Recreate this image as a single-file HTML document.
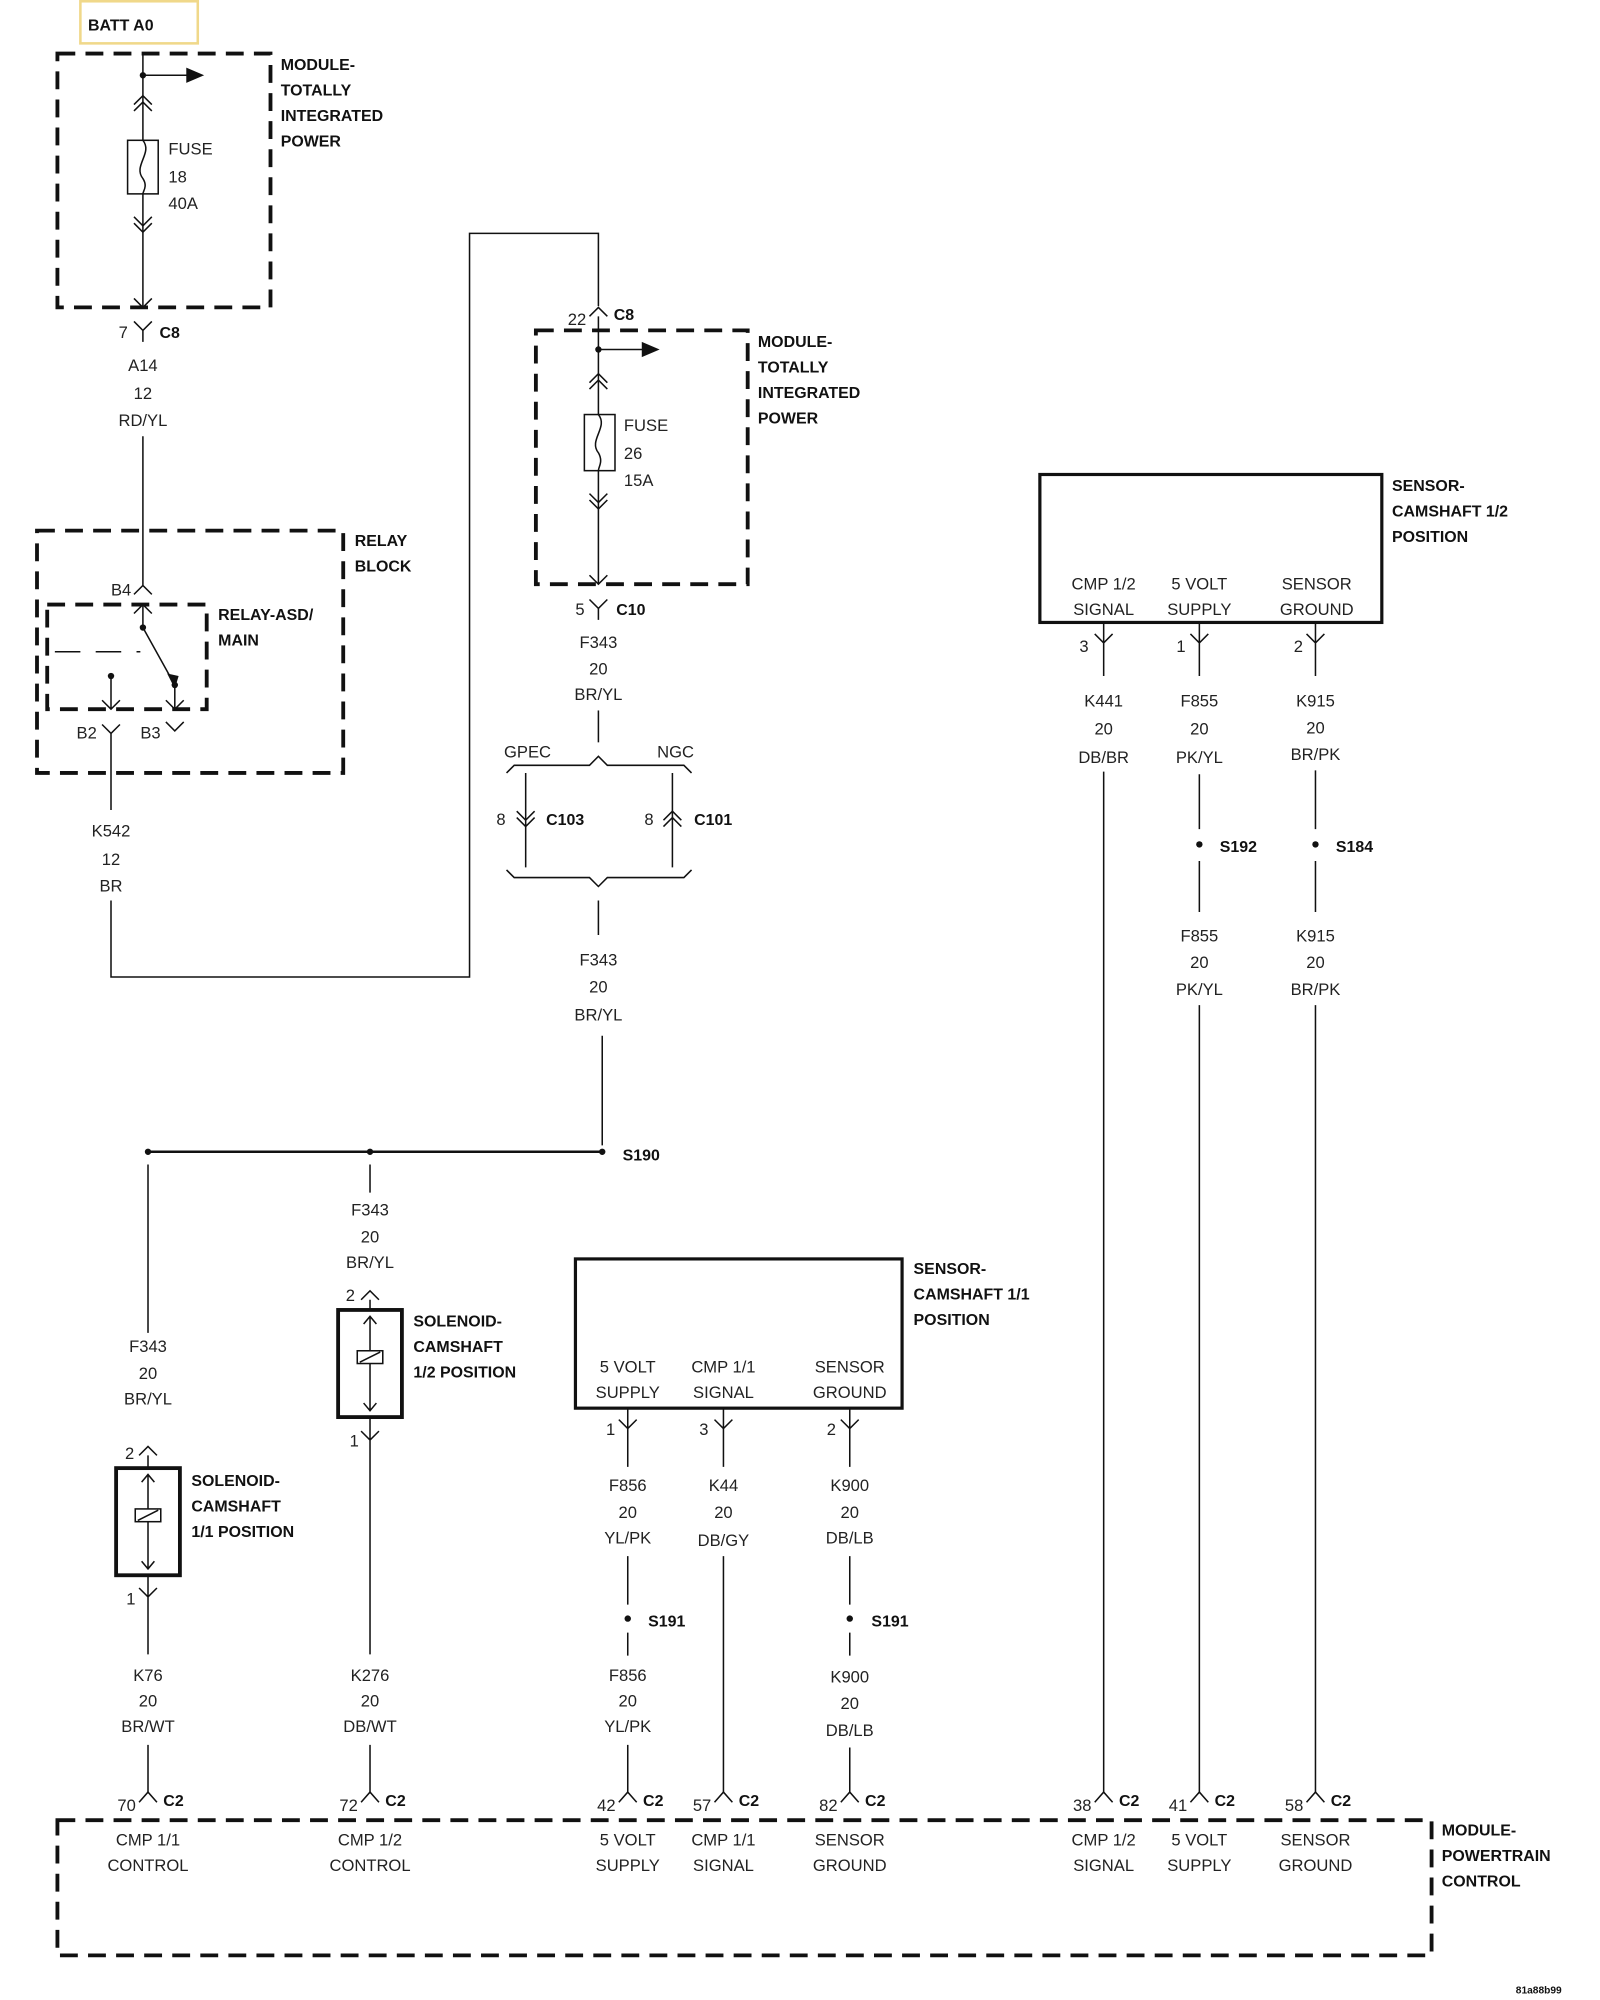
<!DOCTYPE html>
<html><head><meta charset="utf-8"><style>
html,body{margin:0;padding:0;background:#fff;width:1600px;height:2000px;overflow:hidden}
svg{display:block}
text{font-family:"Liberation Sans",sans-serif;font-size:13px;fill:#222}
.b{font-weight:bold;font-size:12.5px;fill:#111}
.c{text-anchor:middle}
</style></head><body>
<svg width="1600" height="2000" viewBox="0 0 1254 1568" preserveAspectRatio="none" xmlns="http://www.w3.org/2000/svg">
<g stroke="#111" fill="none" stroke-width="1.2">
<rect x="63" y="1" width="92" height="33" stroke="#f0d88a" stroke-width="2"/>
<g stroke-width="3" stroke-dasharray="14,8">
<rect x="45" y="42" width="167" height="199"/>
<rect x="29" y="416" width="240" height="190"/>
<rect x="37" y="474" width="125" height="82"/>
<rect x="420" y="259" width="166" height="199"/>
<rect x="45" y="1427" width="1077" height="106"/>
</g>
<path d="M112 42V241"/>
<path d="M112 59H150"/>
<path d="M105 82L112 75L119 82M105 87L112 80L119 87"/>
<rect x="100" y="110" width="24" height="42" fill="#fff"/>
<path d="M112 110C120 120 104 130 112 140C116 146 112 150 112 152"/>
<path d="M105 170L112 177L119 170M105 175L112 182L119 175M105 234L112 241L119 234"/>
<path d="M105 252L112 259L119 252M112 259V268"/>
<path d="M112 342V459M105 466L112 459L119 466"/>
<path d="M112 474V492L137 537M137 537V556M87 530V556M130 549L137 556L144 549M80 549L87 556L94 549M105 481L112 474L119 481"/>
<path d="M43 511H110" stroke-dasharray="20,12"/>
<path d="M80 568L87 575L94 568M87 575V635M87 706V766H368V183H469V240M130 566L137 573L144 566"/>
<path d="M462 248L469 241L476 248M469 248V458"/>
<path d="M469 274H507"/>
<path d="M462 300L469 293L476 300M462 305L469 298L476 305"/>
<rect x="458" y="325" width="24" height="44" fill="#fff"/>
<path d="M469 325C477 335 461 345 469 355C473 362 469 366 469 369"/>
<path d="M462 387L469 394L476 387M462 392L469 399L476 392M462 451L469 458L476 451"/>
<path d="M462 470L469 477L476 470M469 477V486"/>
<path d="M469 557V582"/>
<path d="M397 606L403 600H462L469 593L476 600H536L542 606"/>
<path d="M412 606V680M527 606V680"/>
<path d="M405 636L412 643L419 636M405 641L412 648L419 641"/>
<path d="M520 643L527 636L534 643M520 648L527 641L534 648"/>
<path d="M397 682L403 688H462L469 695L476 688H536L542 682"/>
<path d="M469 706V733M472 812V898"/>
<path d="M116 903H472" stroke-width="2"/>
<path d="M116 913V1045M290 913V935"/>
<path d="M109 1141L116 1134L123 1141M116 1141V1151"/>
<rect x="91" y="1151" width="50" height="84" stroke-width="3"/>
<path d="M116 1156V1230M111 1162L116 1156L121 1162M111 1224L116 1230L121 1224"/>
<rect x="106" y="1183" width="20" height="10" fill="#fff"/>
<path d="M108 1192L124 1184"/>
<path d="M109 1245L116 1252L123 1245M116 1235V1297M116 1368V1405"/>
<path d="M283 1019L290 1012L297 1019M290 1019V1027"/>
<rect x="265" y="1027" width="50" height="84" stroke-width="3"/>
<path d="M290 1032V1106M285 1038L290 1032L295 1038M285 1100L290 1106L295 1100"/>
<rect x="280" y="1059" width="20" height="10" fill="#fff"/>
<path d="M282 1068L298 1060"/>
<path d="M283 1122L290 1129L297 1122M290 1111V1297M290 1368V1405"/>
<rect x="451" y="987" width="256" height="117" stroke-width="2.5"/>
<path d="M485 1113L492 1120L499 1113M492 1104V1150M492 1220V1258M492 1280V1298M492 1368V1405"/>
<path d="M560 1113L567 1120L574 1113M567 1104V1150M567 1220V1405"/>
<path d="M659 1113L666 1120L673 1113M666 1104V1150M666 1220V1258M666 1280V1298M666 1370V1405"/>
<rect x="815" y="372" width="268" height="116" stroke-width="2.5"/>
<path d="M858 497L865 504L872 497M865 488V530M865 605V1405"/>
<path d="M933 497L940 504L947 497M940 488V530M940 607V650M940 675V715M940 788V1405"/>
<path d="M1024 497L1031 504L1038 497M1031 488V530M1031 604V650M1031 675V715M1031 788V1405"/>
<path d="M109 1413L116 1405L123 1413M283 1413L290 1405L297 1413M485 1413L492 1405L499 1413M560 1413L567 1405L574 1413M659 1413L666 1405L673 1413M858 1413L865 1405L872 1413M933 1413L940 1405L947 1413M1024 1413L1031 1405L1038 1413"/>
</g>
<g fill="#111">
<polygon points="146,53 160,59 146,65"/>
<polygon points="503,268 517,274 503,280"/>
<polygon points="131,528 137,540 140,530"/>
<circle cx="112" cy="59" r="2.5"/><circle cx="469" cy="274" r="2.5"/>
<circle cx="112" cy="492" r="2.5"/><circle cx="137" cy="537" r="2.5"/><circle cx="87" cy="530" r="2.5"/>
<circle cx="472" cy="903" r="2.5"/><circle cx="116" cy="903" r="2.5"/><circle cx="290" cy="903" r="2.5"/>
<circle cx="492" cy="1269" r="2.5"/><circle cx="666" cy="1269" r="2.5"/>
<circle cx="940" cy="662" r="2.5"/><circle cx="1031" cy="662" r="2.5"/>
</g>
<text class="b" x="69" y="24">BATT A0</text>
<text class="b" x="220" y="55">MODULE-</text><text class="b" x="220" y="75">TOTALLY</text><text class="b" x="220" y="95">INTEGRATED</text><text class="b" x="220" y="115">POWER</text>
<text x="132" y="121">FUSE</text><text x="132" y="143">18</text><text x="132" y="164">40A</text>
<text x="93" y="265">7</text><text class="b" x="125" y="265">C8</text>
<text class="c" x="112" y="291">A14</text><text class="c" x="112" y="313">12</text><text class="c" x="112" y="334">RD/YL</text>
<text class="b" x="278" y="428">RELAY</text><text class="b" x="278" y="448">BLOCK</text>
<text x="87" y="467">B4</text>
<text class="b" x="171" y="486">RELAY-ASD/</text><text class="b" x="171" y="506">MAIN</text>
<text x="60" y="579">B2</text><text x="110" y="579">B3</text>
<text class="c" x="87" y="656">K542</text><text class="c" x="87" y="678">12</text><text class="c" x="87" y="699">BR</text>
<text x="445" y="255">22</text><text class="b" x="481" y="251">C8</text>
<text class="b" x="594" y="272">MODULE-</text><text class="b" x="594" y="292">TOTALLY</text><text class="b" x="594" y="312">INTEGRATED</text><text class="b" x="594" y="332">POWER</text>
<text x="489" y="338">FUSE</text><text x="489" y="360">26</text><text x="489" y="381">15A</text>
<text x="451" y="482">5</text><text class="b" x="483" y="482">C10</text>
<text class="c" x="469" y="508">F343</text><text class="c" x="469" y="529">20</text><text class="c" x="469" y="549">BR/YL</text>
<text x="395" y="594">GPEC</text><text x="515" y="594">NGC</text>
<text x="389" y="647">8</text><text class="b" x="428" y="647">C103</text>
<text x="505" y="647">8</text><text class="b" x="544" y="647">C101</text>
<text class="c" x="469" y="757">F343</text><text class="c" x="469" y="778">20</text><text class="c" x="469" y="800">BR/YL</text>
<text class="b" x="488" y="910">S190</text>
<text class="c" x="290" y="953">F343</text><text class="c" x="290" y="974">20</text><text class="c" x="290" y="994">BR/YL</text>
<text x="271" y="1020">2</text>
<text class="b" x="324" y="1040">SOLENOID-</text><text class="b" x="324" y="1060">CAMSHAFT</text><text class="b" x="324" y="1080">1/2 POSITION</text>
<text x="274" y="1134">1</text>
<text class="c" x="116" y="1060">F343</text><text class="c" x="116" y="1081">20</text><text class="c" x="116" y="1101">BR/YL</text>
<text x="98" y="1144">2</text>
<text class="b" x="150" y="1165">SOLENOID-</text><text class="b" x="150" y="1185">CAMSHAFT</text><text class="b" x="150" y="1205">1/1 POSITION</text>
<text x="99" y="1258">1</text>
<text class="c" x="116" y="1318">K76</text><text class="c" x="116" y="1338">20</text><text class="c" x="116" y="1358">BR/WT</text>
<text class="c" x="290" y="1318">K276</text><text class="c" x="290" y="1338">20</text><text class="c" x="290" y="1358">DB/WT</text>
<text class="b" x="716" y="999">SENSOR-</text><text class="b" x="716" y="1019">CAMSHAFT 1/1</text><text class="b" x="716" y="1039">POSITION</text>
<text class="c" x="492" y="1076">5 VOLT</text><text class="c" x="492" y="1096">SUPPLY</text>
<text class="c" x="567" y="1076">CMP 1/1</text><text class="c" x="567" y="1096">SIGNAL</text>
<text class="c" x="666" y="1076">SENSOR</text><text class="c" x="666" y="1096">GROUND</text>
<text x="475" y="1125">1</text><text x="548" y="1125">3</text><text x="648" y="1125">2</text>
<text class="c" x="492" y="1169">F856</text><text class="c" x="492" y="1190">20</text><text class="c" x="492" y="1210">YL/PK</text>
<text class="c" x="567" y="1169">K44</text><text class="c" x="567" y="1190">20</text><text class="c" x="567" y="1212">DB/GY</text>
<text class="c" x="666" y="1169">K900</text><text class="c" x="666" y="1190">20</text><text class="c" x="666" y="1210">DB/LB</text>
<text class="b" x="508" y="1275">S191</text><text class="b" x="683" y="1275">S191</text>
<text class="c" x="492" y="1318">F856</text><text class="c" x="492" y="1338">20</text><text class="c" x="492" y="1358">YL/PK</text>
<text class="c" x="666" y="1319">K900</text><text class="c" x="666" y="1340">20</text><text class="c" x="666" y="1361">DB/LB</text>
<text class="b" x="1091" y="385">SENSOR-</text><text class="b" x="1091" y="405">CAMSHAFT 1/2</text><text class="b" x="1091" y="425">POSITION</text>
<text class="c" x="865" y="462">CMP 1/2</text><text class="c" x="865" y="482">SIGNAL</text>
<text class="c" x="940" y="462">5 VOLT</text><text class="c" x="940" y="482">SUPPLY</text>
<text class="c" x="1032" y="462">SENSOR</text><text class="c" x="1032" y="482">GROUND</text>
<text x="846" y="511">3</text><text x="922" y="511">1</text><text x="1014" y="511">2</text>
<text class="c" x="865" y="554">K441</text><text class="c" x="865" y="576">20</text><text class="c" x="865" y="598">DB/BR</text>
<text class="c" x="940" y="554">F855</text><text class="c" x="940" y="576">20</text><text class="c" x="940" y="598">PK/YL</text>
<text class="c" x="1031" y="554">K915</text><text class="c" x="1031" y="575">20</text><text class="c" x="1031" y="596">BR/PK</text>
<text class="b" x="956" y="668">S192</text><text class="b" x="1047" y="668">S184</text>
<text class="c" x="940" y="738">F855</text><text class="c" x="940" y="759">20</text><text class="c" x="940" y="780">PK/YL</text>
<text class="c" x="1031" y="738">K915</text><text class="c" x="1031" y="759">20</text><text class="c" x="1031" y="780">BR/PK</text>
<text x="92" y="1420">70</text><text class="b" x="128" y="1416">C2</text>
<text x="266" y="1420">72</text><text class="b" x="302" y="1416">C2</text>
<text x="468" y="1420">42</text><text class="b" x="504" y="1416">C2</text>
<text x="543" y="1420">57</text><text class="b" x="579" y="1416">C2</text>
<text x="642" y="1420">82</text><text class="b" x="678" y="1416">C2</text>
<text x="841" y="1420">38</text><text class="b" x="877" y="1416">C2</text>
<text x="916" y="1420">41</text><text class="b" x="952" y="1416">C2</text>
<text x="1007" y="1420">58</text><text class="b" x="1043" y="1416">C2</text>
<text class="c" x="116" y="1447">CMP 1/1</text><text class="c" x="116" y="1467">CONTROL</text>
<text class="c" x="290" y="1447">CMP 1/2</text><text class="c" x="290" y="1467">CONTROL</text>
<text class="c" x="492" y="1447">5 VOLT</text><text class="c" x="492" y="1467">SUPPLY</text>
<text class="c" x="567" y="1447">CMP 1/1</text><text class="c" x="567" y="1467">SIGNAL</text>
<text class="c" x="666" y="1447">SENSOR</text><text class="c" x="666" y="1467">GROUND</text>
<text class="c" x="865" y="1447">CMP 1/2</text><text class="c" x="865" y="1467">SIGNAL</text>
<text class="c" x="940" y="1447">5 VOLT</text><text class="c" x="940" y="1467">SUPPLY</text>
<text class="c" x="1031" y="1447">SENSOR</text><text class="c" x="1031" y="1467">GROUND</text>
<text class="b" x="1130" y="1439">MODULE-</text><text class="b" x="1130" y="1459">POWERTRAIN</text><text class="b" x="1130" y="1479">CONTROL</text>
<text class="b" x="1188" y="1563" style="font-size:8px">81a88b99</text>
</svg>
</body></html>
